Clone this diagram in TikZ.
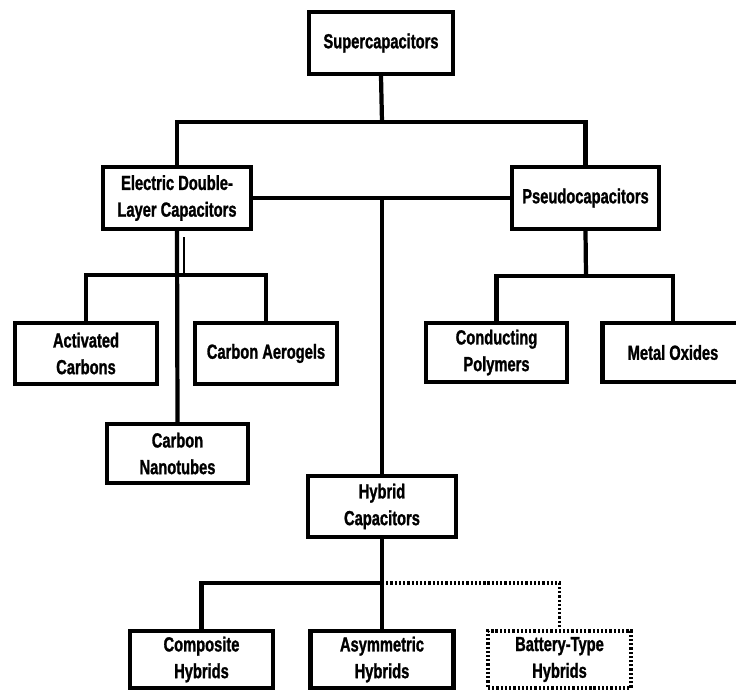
\documentclass[tikz,border=0pt]{standalone}
\usepackage{fontspec}
\setmainfont[FakeStretch=0.72,FakeBold=1.2]{Liberation Sans}
\usetikzlibrary{calc}

\begin{document}
\begin{tikzpicture}[x=0.025cm,y=-0.025cm,
  box/.style={draw,line width=3pt,align=center,inner sep=0pt,
    minimum width=#1*0.025cm,font=\fontsize{14.5}{19}\selectfont\bfseries},
  box/.default=144,
  link/.style={line width=3pt},
  midline/.style={line width=2.5pt},
  thinline/.style={line width=1pt},
  dotline/.style={line width=2.8pt,dash pattern=on 1.6pt off 1.4pt}]
\useasboundingbox (0,0) rectangle (736,690);
\clip (0,0) rectangle (736,690);
% top level
\node[box=144,minimum height=62*0.025cm] (sup) at (381,43) {Supercapacitors};
\node[box=148,minimum height=62*0.025cm] (edlc) at (177,198) {Electric Double-\\Layer Capacitors};
\node[box=147,minimum height=62*0.025cm] (pseudo) at (585.5,198) {Pseudocapacitors};
% EDLC materials
\node[box=142,minimum height=61*0.025cm] (act) at (86,353.5) {Activated\\Carbons};
\node[box=142,minimum height=61*0.025cm] (aero) at (266,353.5) {Carbon Aerogels};
\node[box=141,minimum height=59*0.025cm] (nano) at (177.5,453.5) {Carbon\\Nanotubes};
% pseudo materials
\node[box=141,minimum height=59*0.025cm] (poly) at (496.5,352.5) {Conducting\\Polymers};
\node[box=141,minimum height=59*0.025cm] (oxide) at (673,352.5) {Metal Oxides};
% hybrids
\node[box=148,minimum height=61*0.025cm] (hyb) at (382,506.5) {Hybrid\\Capacitors};
\node[box=143,minimum height=57*0.025cm] (comp) at (201.5,659.5) {Composite\\Hybrids};
\node[box=143,minimum height=57*0.025cm] (asym) at (382,659.5) {Asymmetric\\Hybrids};
\node[box=143,minimum height=57*0.025cm,dotline] (batt) at (559.5,659.5) {Battery-Type\\Hybrids};

\coordinate (j1) at (382,122);
\coordinate (j2) at (177,275);
\coordinate (j3) at (586,276);
\coordinate (j4) at (382,583);

\draw[link] (sup.south) -- (j1);
\draw[link] (edlc.north) |- (j1) -| (pseudo.north);
\draw[midline] (edlc.east) -- (edlc.east -| pseudo.west);
\draw[link] (hyb.north) -- (hyb.north |- edlc.east);

\draw[link] (edlc.south) -- (nano.north);
\draw[link] (act.north) |- (j2) -| (aero.north);
\draw[thinline] ($(edlc.south)+(7,6)$) -- ($(j2)+(7,0)$);

\draw[link] (pseudo.south) -- (j3);
\draw[link] (poly.north) |- (j3) -| (oxide.north);

\draw[link] (hyb.south) -- (asym.north);
\draw[link] (comp.north) |- (j4);
\draw[dotline] (j4) -| (batt.north);
\end{tikzpicture}
\end{document}
